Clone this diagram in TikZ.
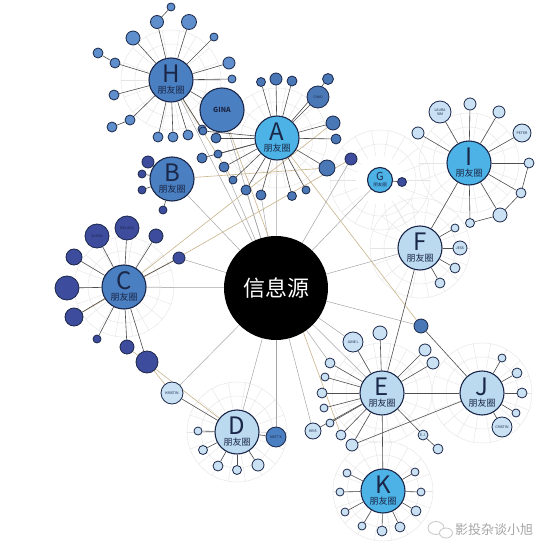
\documentclass[tikz,border=0pt]{standalone}
\usepackage{fontspec}
\setmainfont{Noto Sans CJK SC}
\definecolor{hubblue}{HTML}{4A7FC1}
\definecolor{hubcyan}{HTML}{4DB3E6}
\definecolor{hublight}{HTML}{BBDAF0}
\definecolor{satnavy}{HTML}{3E4C9E}
\definecolor{satmid}{HTML}{5E8FCC}
\definecolor{satdeep}{HTML}{4A78B6}
\definecolor{satlight}{HTML}{C9E1F3}
\definecolor{rim}{HTML}{1B2748}
\definecolor{spoke}{HTML}{4D4D4D}
\definecolor{feedtan}{HTML}{C9B48C}
\definecolor{wheel}{HTML}{E4E4E4}
\pgfdeclarelayer{bg}
\pgfsetlayers{bg,main}
\tikzset{
  friend/.style={circle, draw=rim, line width=1.1pt, inner sep=0pt, align=center, text=rim},
  hub/.style={friend, minimum size=44pt,
    label={[hubletter]center:#1}, label={[hubcirc]center:朋友圈}},
  hubletter/.style={font=\fontsize{24}{24}\selectfont, text=rim, inner sep=0pt, yshift=6pt},
  hubcirc/.style={font=\fontsize{9}{9}\selectfont, text=rim, inner sep=0pt, yshift=-10pt},
  sat/.style={friend, line width=0.8pt, font=\fontsize{3.5}{4}\selectfont},
  link/.style={spoke, line width=0.6pt},
  feed/.style={feedtan, line width=0.6pt},
  rayline/.style={gray!70, line width=0.5pt},
}
\begin{document}
\begin{tikzpicture}[x=1pt,y=-1pt]
\useasboundingbox (0,0) rectangle (558,554);
\begin{pgfonlayer}{bg}
  \fill[white] (0,0) rectangle (558,554);
  % faint wheels behind the circles of friends
  \foreach \hx/\hy in {171/80, 277/138, 124/287, 237/432, 382/393, 482/393, 383/491, 469/163, 420/248, 380/180}
  {
    \begin{scope}[shift={(\hx,\hy)}]
      \draw[wheel, line width=0.4pt] (0,0) circle (36pt);
      \draw[wheel, line width=0.4pt] (0,0) circle (50pt);
      \foreach \a in {0,20,...,340}
        \draw[wheel, line width=0.4pt] (\a:24pt) -- (\a:50pt);
    \end{scope}
  }
\end{pgfonlayer}

% source
\node[circle, fill=black, minimum size=104pt, text=white, font=\fontsize{22}{22}\selectfont] (src) at (276,288) {信息源};

% circles of friends
\node[hub=H, fill=hubblue] (H) at (171,80) {};
\node[hub=A, fill=hubcyan] (A) at (277,138) {};
\node[hub=B, fill=hubblue] (B) at (172,179) {};
\node[hub=C, fill=hubblue] (C) at (124,287) {};
\node[hub=D, fill=hublight] (D) at (237,432) {};
\node[hub=E, fill=hublight] (E) at (382,393) {};
\node[hub=F, fill=hublight] (F) at (420,248) {};
\node[hub=I, fill=hubcyan] (I) at (469,163) {};
\node[hub=J, fill=hublight] (J) at (482,393) {};
\node[hub=K, fill=hubcyan] (K) at (383,491) {};
\node[friend, fill=hubcyan, minimum size=25pt,
  label={[text=rim, inner sep=0pt, font=\fontsize{11}{11}\selectfont, yshift=3.5pt]center:G},
  label={[text=rim, inner sep=0pt, font=\fontsize{4.5}{4.5}\selectfont, yshift=-5pt]center:朋友圈}] (G) at (380,180) {};

% friends
\node[friend, fill=hubblue, minimum size=44pt, font=\bfseries\fontsize{7}{7}\selectfont] (gina) at (222,110) {GINA};
\foreach \n/\x/\y/\r in {h1/157/22/6.5, h2/189/22/7.5, h3/133/38/7, h4/214/37/4, h5/115/63/5, h6/229/63/6,
    h7/232/79/4, h8/114/95/5, h9/130/120/5, h10/158/137/5, h11/173/137/5, h12/188/135/5, h13/202/129/4,
    h14/171/7/4, h15/98/53/5, h16/112/127/5}
  \node[sat, fill=satmid, minimum size=\r*2pt] (\n) at (\x,\y) {};
\foreach \n/\x/\y/\r in {a1/261/82/4.5, a2/276/79/6, a3/292/81/5, a5/328/79/5.5, a6/333/123/7, a7/336/139/5,
    a8/327/168/8, a9/306/190/4, a10/292/196/4.5, a11/261/195/5, a12/246/190/5, a13/233/180/4,
    a14/224/167/5, a15/218/154/4, a16/216/138/5, a17/203/131/4, a18/202/158/5}
  \node[sat, fill=satdeep, minimum size=\r*2pt] (\n) at (\x,\y) {};
\node[sat, fill=satdeep, minimum size=22pt] (a4) at (318,97) {CHAD};
\foreach \n/\x/\y/\r in {a19/351/159/6, g1/402/182/4.5, b1/148/162/6, b2/142/174/4, b3/142/190/4, b4/163/210/4,
    c3/156/236/7, c4/179/258/6, c5/74/257/8, c6/67/288/12, c7/74/317/9, c8/97/339/4, c9/127/347/7, c10/147/362/11}
  \node[sat, fill=satnavy, minimum size=\r*2pt] (\n) at (\x,\y) {};
\node[sat, fill=satnavy, minimum size=24pt] (c1) at (97,236) {SUSAN};
\node[sat, fill=satnavy, minimum size=24pt] (c2) at (127,228) {MELISSA};
\foreach \n/\x/\y/\r in {d1/198/431/4, d2/203/450/4.5, d3/218/466/5, d4/237/470/4.5, d5/258/465/6,
    e1/380/333/7, e2/425/350/6, e3/433/363/6, e4/330/363/5, e5/325/377/4, e6/322/393/5, e7/324/408/4,
    e8/330/423/4, e9/341/435/5, e10/352/445/6, e11/438/449/5,
    j1/502/358/4, j2/517/373/5, j3/522/393/5, j4/516/413/4,
    k1/347/473/4, k2/340/492/4, k3/345/512/4, k4/362/526/4, k5/382/531/5, k6/400/527/5, k7/416/511/5,
    k8/421/492/4, k9/415/472/4,
    i1/470/104/6, i2/499/112/6, i3/418/133/6, i4/529/163/5, i5/521/193/5, i6/500/215/7, i7/470/223/4.5,
    f1/455/228/4, f2/455/268/5, f3/440/283/5}
  \node[sat, fill=satlight, minimum size=\r*2pt] (\n) at (\x,\y) {};
\node[sat, fill=satlight, minimum size=22pt] (kristin) at (172,393) {KRISTIN};
\node[sat, fill=hubblue, minimum size=20pt] (mattk) at (276,437) {MATT K};
\node[sat, fill=satlight, minimum size=16pt] (kris) at (313,431) {KRIS};
\node[sat, fill=satlight, minimum size=20pt] (janel) at (353,342) {JANE L};
\node[sat, fill=satdeep, minimum size=14pt] (cristina) at (421,326) {};
\node[sat, fill=satlight, minimum size=10pt] (ej) at (423,435) {E.J.};
\node[sat, fill=satlight, minimum size=20pt] (cristin) at (502,427) {CRISTIN};
\node[sat, fill=satlight, minimum size=22pt] (laura) at (440,112) {LAURA\\SIM};
\node[sat, fill=satlight, minimum size=18pt] (peter) at (522,133) {PETER};
\node[sat, fill=satlight, minimum size=14pt] (jess) at (460,248) {JESS};

% connectors
\begin{pgfonlayer}{bg}
  \foreach \t in {A,B,C,D,E,F,G,H,gina,kristin,mattk,kris,cristina,a19,a11,a12,a14,c4,janel,e4}
    \draw[rayline] (src) -- (\t);
  \draw[feed] (A) -- (cristina);
  \draw[feed] (gina) -- (e9);
  \draw[feed] (H) -- (a13);
  \draw[feed] (B) -- (a8);
  \draw[feed] (C) -- (a6);
  \draw[feed] (kristin) -- (c10);
  \draw[feed] (a19) -- (c7);
  \draw[feed] (D) -- (c9);
  \foreach \s in {h1,h2,h3,h4,h5,h6,h7,h8,h9,h10,h11,h12,h13,gina}
    \draw[link] (H) -- (\s);
  \draw[link] (h1) -- (h14);
  \draw[link] (h5) -- (h15);
  \draw[link] (h9) -- (h16);
  \foreach \s in {a1,a2,a3,a4,a5,a6,a7,a8,a9,a10,a11,a12,a13,a14,a15,a16,a17,a18}
    \draw[link] (A) -- (\s);
  \foreach \s in {b1,b2,b3,b4}
    \draw[link] (B) -- (\s);
  \foreach \s in {c1,c2,c3,c4,c5,c6,c7,c8,c9,c10}
    \draw[link] (C) -- (\s);
  \foreach \s in {kristin,d1,d2,d3,d4,d5,mattk}
    \draw[link] (D) -- (\s);
  \foreach \s in {janel,e1,e2,e3,e4,e5,e6,e7,e8,e9,e10,ej,kris,J,K}
    \draw[link] (E) -- (\s);
  \draw[link] (ej) -- (e11);
  \draw[link] (e10) -- (J);
  \draw[link] (cristina) -- (J);
  \foreach \s in {j1,j2,j3,j4,cristin}
    \draw[link] (J) -- (\s);
  \foreach \s in {k1,k2,k3,k4,k5,k6,k7,k8,k9}
    \draw[link] (K) -- (\s);
  \foreach \s in {laura,i1,i2,i3,peter,i4,i5,i6,i7,F}
    \draw[link] (I) -- (\s);
  \draw[link] (i4) -- (i5) -- (i6) -- (i7);
  \foreach \s in {f1,jess,f2,f3,E}
    \draw[link] (F) -- (\s);
  \draw[link] (G) -- (g1);
\end{pgfonlayer}

% watermark
\draw[gray!45, line width=0.8pt] (436,528) ellipse (8pt and 6.5pt);
\draw[gray!45, line width=0.8pt, fill=white] (446,533) ellipse (6.5pt and 5pt);
\node[text=gray!70, font=\fontsize{13}{13}\selectfont] (mark) at (494,530) {影投杂谈小旭};
\end{tikzpicture}
\end{document}
